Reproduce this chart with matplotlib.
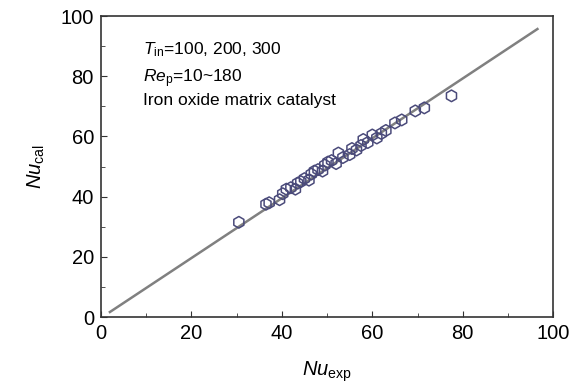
import matplotlib
matplotlib.use("Agg")
import matplotlib.pyplot as plt
from matplotlib.ticker import MultipleLocator

plt.rcParams["font.family"] = ["Liberation Sans", "DejaVu Sans"]
plt.rcParams["mathtext.fontset"] = "custom"
plt.rcParams["mathtext.rm"] = "Liberation Sans"
plt.rcParams["mathtext.it"] = "Liberation Sans:italic"

# data
nu_exp = [30.5, 36.5, 37.2, 39.5, 40.2, 41.0, 42.0, 43.0, 43.5, 44.2, 45.0, 46.0,
          46.5, 47.2, 48.0, 49.0, 49.5, 50.2, 51.0, 52.0, 52.5, 53.5, 55.0, 55.5,
          56.5, 57.5, 58.0, 59.0, 60.0, 61.0, 62.0, 63.0, 65.0, 66.5, 69.5, 71.5, 77.5]
nu_cal = [31.5, 37.5, 38.0, 39.0, 41.0, 42.5, 43.0, 42.5, 44.5, 45.0, 46.0, 45.5,
          47.5, 48.5, 49.0, 48.5, 50.5, 51.5, 52.0, 51.0, 54.5, 53.0, 54.0, 56.0,
          55.5, 57.0, 59.0, 58.0, 60.5, 59.5, 61.0, 62.0, 64.5, 65.5, 68.5, 69.5, 73.5]
fit_x = [2, 96.5]
fit_y = [1.7, 95.7]

fig = plt.figure(figsize=(5.83, 3.92), dpi=100)
ax = fig.add_axes([0.173, 0.191, 0.776, 0.768])

ax.plot(fit_x, fit_y, color="#808080", lw=1.8, zorder=2)
ax.scatter(nu_exp, nu_cal, marker="h", s=70, facecolors="none",
           edgecolors="#4a4a7a", linewidths=1.1, zorder=3)

ax.set_xlim(0, 100); ax.set_ylim(0, 100)
ax.xaxis.set_major_locator(MultipleLocator(20))
ax.yaxis.set_major_locator(MultipleLocator(20))
ax.xaxis.set_minor_locator(MultipleLocator(10))
ax.yaxis.set_minor_locator(MultipleLocator(10))
ax.tick_params(which="both", direction="in", top=False, right=False,
               labelsize=14.5, color="#333333")
ax.tick_params(which="major", length=4, pad=5)
ax.tick_params(which="minor", length=3)
for s in ax.spines.values():
    s.set_color("#333333"); s.set_linewidth(1.2)

ax.set_xlabel(r"$Nu$$_{\rm exp}$", fontsize=14.5, labelpad=12)
ax.set_ylabel(r"$Nu$$_{\rm cal}$", fontsize=14.5, labelpad=10)

ax.text(0.093, 0.92, r"$T$$_{\rm in}$=100, 200, 300", transform=ax.transAxes, fontsize=12.5, va="top")
ax.text(0.093, 0.83, r"$Re$$_{\rm p}$=10~180", transform=ax.transAxes, fontsize=12.5, va="top")
ax.text(0.093, 0.745, "Iron oxide matrix catalyst", transform=ax.transAxes, fontsize=12.5, va="top")

fig.savefig("out.png", dpi=100)
